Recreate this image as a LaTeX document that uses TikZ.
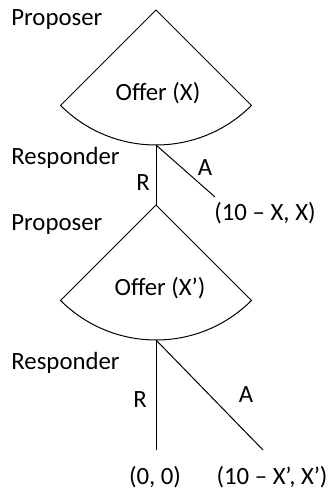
\documentclass[tikz,border=0pt]{standalone}
\usepackage{fontspec}
\setmainfont{Carlito}
\usepackage{tikz}
\usetikzlibrary{positioning,calc}

\begin{document}
\begin{tikzpicture}[x=0.5pt,y=0.5pt,
  every node/.style={font=\fontsize{12.4}{14}\selectfont,inner sep=0pt},
  player/.style={anchor=west},
  branch/.style={draw=black,line width=0.5pt},
  offerfan/.style={draw=black,line width=0.5pt}]
  \useasboundingbox (0,0) rectangle (330,491);
  % decision points
  \coordinate (apexA) at (156,481);
  \coordinate (respA) at (156,346);
  \coordinate (apexB) at (156,286);
  \coordinate (respB) at (156,151);
  \coordinate (acceptA) at (215,294);
  \coordinate (rejectB) at (156,41);
  \coordinate (acceptB) at (263,41);
  % offer fans
  \draw[offerfan] (apexA) -- ++(-135:135) arc[start angle=-135,end angle=-45,radius=135] -- cycle;
  \draw[offerfan] (apexB) -- ++(-135:135) arc[start angle=-135,end angle=-45,radius=135] -- cycle;
  \node (offerA) at (158,398) {Offer (X)};
  \node (offerB) at (160,203) {Offer (X’)};
  % players
  \node[player] (propA) at (11,471) {Proposer};
  \node[player] (resA) at (11,333) {Responder};
  \node[player] (propB) at (11,266) {Proposer};
  \node[player] (resB) at (11,128) {Responder};
  % responses
  \draw[branch] (respA) -- (apexB);
  \draw[branch] (respA) -- (acceptA);
  \draw[branch] (respB) -- (rejectB);
  \draw[branch] (respB) -- (acceptB);
  \node (rA) at (143,308) {R};
  \node (aA) at (205,323) {A};
  \node (rB) at (140,91) {R};
  \node (aB) at (246,96) {A};
  % payoffs
  \node (payA) at (265,278) {(10 – X, X)};
  \node (payR) at (155,14) {(0, 0)};
  \node (payB) at (272,14) {(10 – X’, X’)};
\end{tikzpicture}
\end{document}
